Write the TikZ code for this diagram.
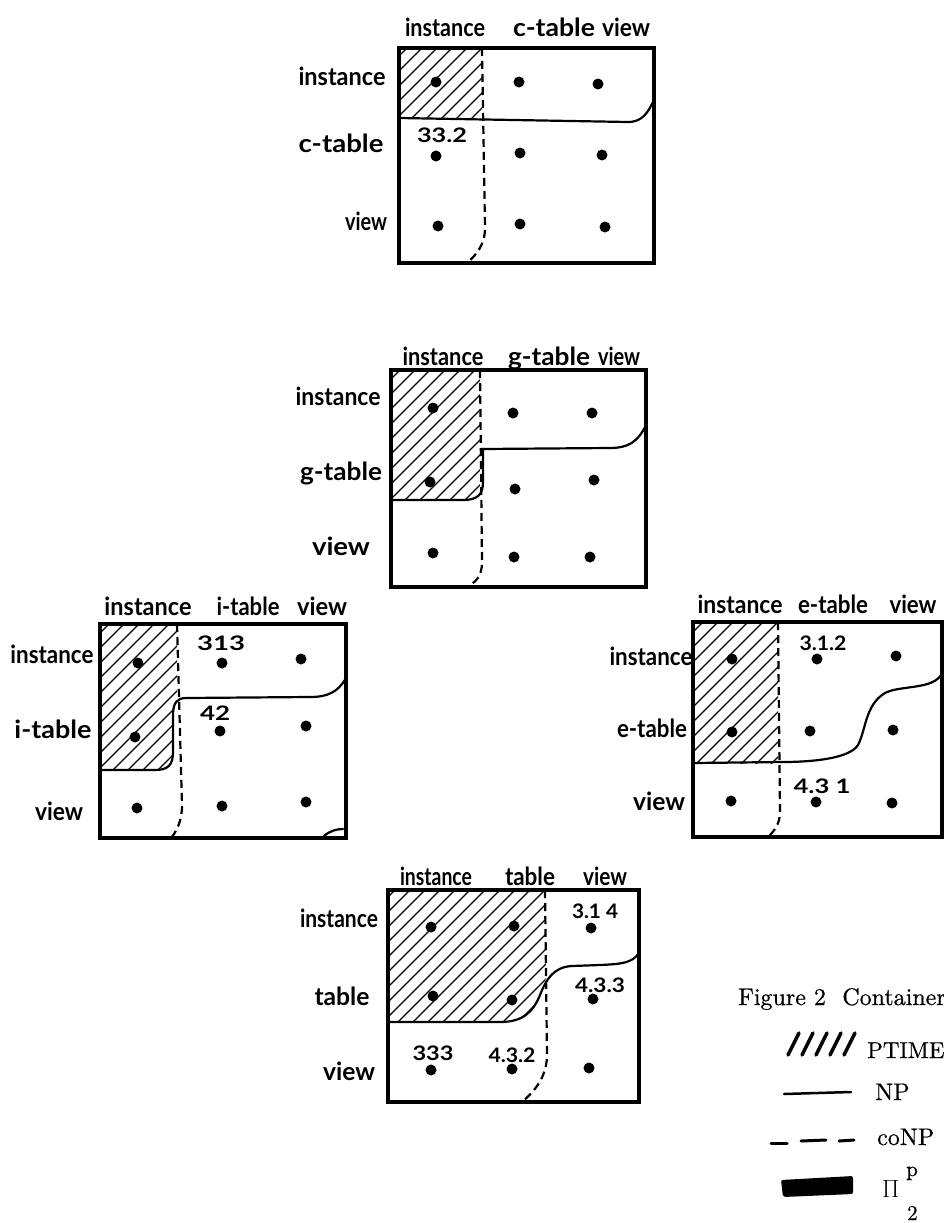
\documentclass[tikz,border=0pt]{standalone}
\usepackage{fontspec}
\usepackage{graphicx}
\newfontfamily\hwfont{Lato}
\newfontfamily\lgdfont{lmroman10-regular.otf}[FakeBold=0.6]
\newcommand\hwtxt[2]{\resizebox{#1pt}{\height}{#2}}
\newcommand\hatchfill[2]{\foreach \k in {0,...,#2}{\draw[hatchline] ({#1+15*\k},0) -- (0,{#1+15*\k});}}
\tikzset{
  boxborder/.style={line width=4.2pt, line join=miter},
  npline/.style={line width=2.2pt, line cap=round},
  conpline/.style={line width=2.2pt, dash pattern=on 8pt off 5pt},
  hatchline/.style={line width=1.2pt},
  dotn/.style={circle, fill=black, inner sep=0pt, minimum size=11pt},
  hw/.style={font=\hwfont\bfseries\fontsize{25}{25}\selectfont, inner sep=0pt, anchor=base},
  hwnum/.style={font=\hwfont\bfseries\fontsize{20}{20}\selectfont, inner sep=0pt, anchor=base},
  lgd/.style={font=\lgdfont\fontsize{24}{24}\selectfont, inner sep=0pt, anchor=base west},
}
\begin{document}
\begin{tikzpicture}[x=1pt,y=-1pt]
\useasboundingbox[fill=white] (0,0) rectangle (944,1223);

% ================= Box 1 : c-table =================
\begin{scope}
  \clip (399,48) rectangle (482,118);
  \hatchfill{440}{12}
\end{scope}
\draw[npline] (399,118) -- (628,122) .. controls (643,122) and (648,112) .. (654,100);
\draw[conpline] (482,48) -- (485,228) .. controls (485,245) and (476,255) .. (467,263);
\draw[boxborder] (399,48) rectangle (654,263);
\foreach \p [count=\i] in {(436,82),(519,82),(598,84),(436,156),(520,153),(602,155),(438,226),(520,224),(605,227)}
  \node[dotn] (a\i) at \p {};
\node[hw] (a-h1) at (445,37) {\hwtxt{80}{instance}};
\node[hw] (a-h2) at (554,37) {\hwtxt{82}{c-table}};
\node[hw] (a-h3) at (626,37) {\hwtxt{48}{view}};
\node[hw] (a-r1) at (342,85) {\hwtxt{87}{instance}};
\node[hw] (a-r2) at (341,152) {\hwtxt{85}{c-table}};
\node[hw] (a-r3) at (366,230) {\hwtxt{42}{view}};
\node[hwnum] (a-n1) at (442,142) {\hwtxt{50}{33.2}};

% ================= Box 2 : g-table =================
\begin{scope}
  \clip (391,370) -- (480,370) -- (480,482) .. controls (480,495) and (476,500) .. (463,500) -- (391,500) -- cycle;
  \hatchfill{755}{17}
\end{scope}
\draw[npline] (646,425) .. controls (638,442) and (628,448) .. (610,448) -- (483,449) -- (483,482) .. controls (483,495) and (477,500) .. (463,500) -- (391,500);
\draw[conpline] (480,370) -- (482,562) .. controls (482,577) and (475,583) .. (466,587);
\draw[boxborder] (391,370) rectangle (646,587);
\foreach \p [count=\i] in {(433,408),(513,413),(592,413),(430,482),(515,489),(594,480),(433,553),(514,557),(590,557)}
  \node[dotn] (b\i) at \p {};
\node[hw] (b-h1) at (443,365) {\hwtxt{81}{instance}};
\node[hw] (b-h2) at (549,365) {\hwtxt{82}{g-table}};
\node[hw] (b-h3) at (619,365) {\hwtxt{42}{view}};
\node[hw] (b-r1) at (338,405) {\hwtxt{85}{instance}};
\node[hw] (b-r2) at (341,480) {\hwtxt{82}{g-table}};
\node[hw] (b-r3) at (341,555) {\hwtxt{58}{view}};

% ================= Box 3 : i-table =================
\begin{scope}
  \clip (100,624) -- (177,624) -- (177,698) .. controls (174,700) and (173,705) .. (173,715) -- (173,752) .. controls (173,765) and (168,770) .. (155,770) -- (100,770) -- cycle;
  \hatchfill{718}{17}
\end{scope}
\draw[npline] (346,678) .. controls (338,692) and (328,697) .. (310,697) -- (186,698) .. controls (177,698) and (173,703) .. (173,715) -- (173,752) .. controls (173,765) and (168,770) .. (155,770) -- (100,770);
\draw[npline] (324,836) .. controls (330,831) and (336,829) .. (343,829);
\draw[conpline] (177,624) -- (182,805) .. controls (182,822) and (176,832) .. (171,838);
\draw[boxborder] (100,624) rectangle (346,838);
\foreach \p [count=\i] in {(138,663),(222,663),(301,659),(135,737),(220,731),(306,726),(137,808),(222,806),(306,802)}
  \node[dotn] (c\i) at \p {};
\node[hw] (c-h1) at (148,615) {\hwtxt{87}{instance}};
\node[hw] (c-h2) at (248,615) {\hwtxt{63}{i-table}};
\node[hw] (c-h3) at (322,615) {\hwtxt{50}{view}};
\node[hw] (c-r1) at (52,663) {\hwtxt{83}{instance}};
\node[hw] (c-r2) at (53,738) {\hwtxt{77}{i-table}};
\node[hw] (c-r3) at (59,820) {\hwtxt{48}{view}};
\node[hwnum] (c-n1) at (221,650) {\hwtxt{48}{313}};
\node[hwnum] (c-n2) at (215,720) {\hwtxt{30}{42}};

% ================= Box 4 : e-table =================
\begin{scope}
  \clip (693,622) rectangle (778,763);
  \hatchfill{1310}{17}
\end{scope}
\draw[npline] (693,763) -- (782,762) .. controls (815,762) and (850,758) .. (858,745) .. controls (866,730) and (865,705) .. (885,693) .. controls (900,685) and (935,690) .. (942,673);
\draw[conpline] (778,622) -- (780,812) .. controls (780,825) and (773,832) .. (768,837);
\draw[boxborder] (693,622) rectangle (942,837);
\foreach \p [count=\i] in {(732,659),(817,659),(896,656),(732,732),(810,731),(893,730),(731,801),(816,802),(892,803)}
  \node[dotn] (d\i) at \p {};
\node[hw] (d-h1) at (740,613) {\hwtxt{85}{instance}};
\node[hw] (d-h2) at (833,613) {\hwtxt{70}{e-table}};
\node[hw] (d-h3) at (913,613) {\hwtxt{47}{view}};
\node[hw] (d-r1) at (651,665) {\hwtxt{83}{instance}};
\node[hw] (d-r2) at (652,737) {\hwtxt{70}{e-table}};
\node[hw] (d-r3) at (659,810) {\hwtxt{52}{view}};
\node[hwnum] (d-n1) at (823,650) {\hwtxt{47}{3.1.2}};
\node[hwnum] (d-n2) at (822,793) {\hwtxt{57}{4.3 1}};

% ================= Box 5 : table =================
\begin{scope}
  \clip (388,890) -- (546,890) -- (546,978) .. controls (544,985) and (542,990) .. (540,995) .. controls (533,1012) and (523,1022) .. (500,1022) -- (388,1022) -- cycle;
  \hatchfill{1270}{22}
\end{scope}
\draw[npline] (639,953) .. controls (632,963) and (622,964) .. (600,965) -- (572,966) .. controls (553,967) and (546,980) .. (540,995) .. controls (533,1012) and (523,1022) .. (500,1022) -- (388,1022);
\draw[conpline] (545,890) -- (547,1055) .. controls (547,1080) and (530,1095) .. (522,1102);
\draw[boxborder] (388,890) rectangle (639,1102);
\foreach \p [count=\i] in {(431,927),(514,926),(591,928),(433,996),(512,1000),(593,999),(431,1070),(512,1069),(589,1068)}
  \node[dotn] (e\i) at \p {};
\node[hw] (e-h1) at (436,885) {\hwtxt{72}{instance}};
\node[hw] (e-h2) at (530,885) {\hwtxt{50}{table}};
\node[hw] (e-h3) at (605,885) {\hwtxt{44}{view}};
\node[hw] (e-r1) at (339,927) {\hwtxt{78}{instance}};
\node[hw] (e-r2) at (342,1005) {\hwtxt{55}{table}};
\node[hw] (e-r3) at (349,1080) {\hwtxt{52}{view}};
\node[hwnum] (e-n1) at (595,918) {\hwtxt{46}{3.1 4}};
\node[hwnum] (e-n2) at (600,992) {\hwtxt{50}{4.3.3}};
\node[hwnum] (e-n3) at (433,1060) {\hwtxt{41}{333}};
\node[hwnum] (e-n4) at (512,1062) {\hwtxt{47}{4.3.2}};

% ================= Caption and legend =================
\node[lgd] (caption) at (738,1005) {Figure 2\hspace{0.35em} Container};
\foreach \x in {788,802,816,830,844}
  \draw[line width=3.5pt, line cap=round] (\x,1055) -- ++(11,-22);
\node[lgd, font=\lgdfont\fontsize{23}{23}\selectfont] (ptime) at (867,1058) {PTIME};
\draw[line width=2.5pt, line cap=round] (784,1094) -- (851,1092);
\node[lgd] (np) at (875,1100) {NP};
\draw[line width=3pt, line cap=round] (771,1143) -- (787,1143);
\draw[line width=3pt, line cap=round] (801,1141) -- (826,1140);
\draw[line width=3pt, line cap=round] (839,1141) -- (854,1140);
\node[lgd] (conp) at (877,1145) {coNP};
\fill[rounded corners=2pt] (781,1180) -- (853,1176) -- (853,1194) -- (783,1197) -- cycle;
\node[lgd] (pi) at (882,1197) {$\Pi$};
\node[lgd, font=\lgdfont\fontsize{21}{21}\selectfont] (pisup) at (906,1176) {p};
\node[lgd, font=\lgdfont\fontsize{21}{21}\selectfont] (pisub) at (907,1220) {2};
\end{tikzpicture}
\end{document}
